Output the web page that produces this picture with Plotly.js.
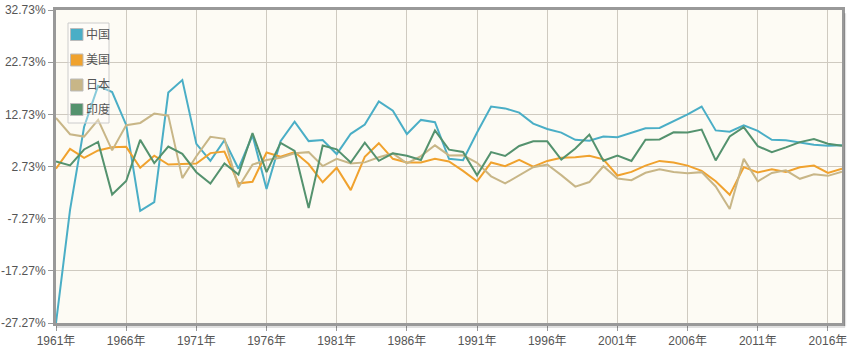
<!DOCTYPE html>
<html><head><meta charset="utf-8">
<script src="https://cdn.plot.ly/plotly-3.0.1.min.js"></script>
<style>html,body{margin:0;padding:0;background:#fff}#chart{width:854px;height:357px}</style>
</head><body><div id="chart"></div>
<script>
const years = [];
for (let y = 1961; y <= 2017; y++) years.push(y);

const seriesNames = ['中国', '美国', '日本', '印度'];
const seriesColors = ['#4aaec6', '#f0a22e', '#c8b687', '#54926e'];

const china = [-27.27,-5.58,10.3,18.18,17.0,10.7,-5.77,-4.1,16.9,19.3,
  7.06,3.81,7.76,2.31,8.72,-1.57,7.57,11.33,7.6,7.81,
  5.11,9.0,10.77,15.19,13.43,8.95,11.66,11.22,4.21,3.92,
  9.26,14.22,13.87,13.05,10.95,9.93,9.23,7.84,7.67,8.49,
  8.34,9.13,10.04,10.11,11.4,12.72,14.23,9.65,9.4,10.64,
  9.55,7.86,7.77,7.3,6.9,6.7,6.8];
const usa = [2.3,6.1,4.4,5.8,6.4,6.5,2.5,4.8,3.1,3.2,
  3.3,5.3,5.6,-0.5,-0.2,5.4,4.6,5.5,3.2,-0.3,
  2.5,-1.8,4.6,7.2,4.2,3.5,3.5,4.2,3.7,1.9,
  -0.1,3.5,2.8,4.0,2.7,3.8,4.4,4.5,4.8,4.1,
  1.0,1.7,2.9,3.8,3.5,2.9,1.9,-0.1,-2.7,2.6,
  1.6,2.2,1.7,2.6,2.9,1.5,2.3];
const japan = [12.04,8.91,8.47,11.68,5.82,10.64,11.08,12.88,12.48,0.5,
  4.7,8.41,8.03,-1.23,3.09,3.97,4.39,5.27,5.48,2.82,
  4.21,3.31,3.52,4.5,5.23,3.33,4.73,6.79,4.86,4.89,
  3.42,0.85,-0.52,0.99,2.6,3.1,1.08,-1.13,-0.25,2.78,
  0.41,0.12,1.53,2.2,1.66,1.42,1.65,-1.09,-5.42,4.19,
  -0.12,1.5,2.0,0.37,1.22,0.94,1.71];
const india = [3.72,2.93,5.99,7.45,-2.64,-0.06,7.83,3.39,6.54,5.16,
  1.64,-0.55,3.3,1.19,9.15,1.66,7.25,5.71,-5.24,6.74,
  6.01,3.48,7.29,3.82,5.25,4.78,3.97,9.63,5.95,5.53,
  1.06,5.48,4.75,6.66,7.57,7.55,4.05,6.18,8.85,3.84,
  4.82,3.8,7.86,7.92,9.28,9.26,9.8,3.89,8.48,10.26,
  6.64,5.46,6.39,7.41,8.0,7.1,6.7];

const yTickVals = [-27.27,-17.27,-7.27,2.73,12.73,22.73,32.73];
const yTickText = ['-27.27%','-17.27%','-7.27%','2.73%','12.73%','22.73%','32.73%'];
const xTickVals = [1961,1966,1971,1976,1981,1986,1991,1996,2001,2006,2011,2016];
const xTickText = xTickVals.map(v => v + '年');

const allSeries = [china, usa, japan, india];
const traces = allSeries.map((s, i) => ({
  type:'scatter', mode:'lines', x: years, y: s, name: seriesNames[i],
  line:{color: seriesColors[i], width: 2}, showlegend:false
}));

// plot box in pixels (for legend placement in paper units)
const W = 854, H = 357, ML = 56, MR = 12, MT = 10, MB = 34;
const PW = W - ML - MR, PH = H - MT - MB;
const px = v => (v - ML) / PW;
const py = v => (H - MB - v) / PH;

const shapes = [
  {type:'line', xref:'paper', yref:'paper', x0:1.004, x1:1.004, y0:-0.01, y1:0.99,
    line:{color:'rgba(0,0,0,0.12)', width:2}},
  {type:'line', xref:'paper', yref:'paper', x0:0.0, x1:1.004, y0:-0.013, y1:-0.013,
    line:{color:'rgba(0,0,0,0.12)', width:2}},
  {type:'rect', xref:'paper', yref:'paper', x0:px(68), x1:px(109), y0:py(123), y1:py(23),
    line:{color:'#cccccc', width:1}, fillcolor:'rgba(255,255,255,0.35)', layer:'above'}
];
const annotations = [];
const legendY = [34.5, 60, 85, 109.5];
seriesNames.forEach((n, i) => {
  const cy = legendY[i];
  shapes.push({type:'rect', xref:'paper', yref:'paper', x0:px(70.5), x1:px(83), y0:py(cy+6), y1:py(cy-6),
    line:{color:'#bbbbbb', width:1}, fillcolor: seriesColors[i], layer:'above'});
  annotations.push({xref:'paper', yref:'paper', x:px(84), y:py(cy), text:n, showarrow:false,
    xanchor:'left', yanchor:'middle', font:{size:12, color:'#555'}});
});

const fontFam = 'Liberation Sans, Noto Sans CJK SC, sans-serif';
const layout = {
  width: W, height: H,
  margin: {l:ML, r:MR, t:MT, b:MB},
  paper_bgcolor: '#ffffff',
  plot_bgcolor: '#fdfbf4',
  font: {family: fontFam, size: 12, color: '#555'},
  xaxis: {range:[1961, 2017], tickvals: xTickVals, ticktext: xTickText,
    showgrid:true, gridcolor:'#cfcac0', gridwidth:1, zeroline:false,
    showline:true, linecolor:'#999', linewidth:3, mirror:true,
    ticks:'outside', ticklen:5, tickcolor:'#999', tickfont:{size:12, color:'#555'}},
  yaxis: {range:[-27.27, 32.73], tickvals: yTickVals, ticktext: yTickText,
    showgrid:true, gridcolor:'#cfcac0', gridwidth:1, zeroline:false,
    showline:true, linecolor:'#999', linewidth:3, mirror:true,
    ticks:'outside', ticklen:5, tickcolor:'#999', tickfont:{size:12, color:'#555'}},
  shapes: shapes,
  annotations: annotations,
  showlegend: false
};
Plotly.newPlot('chart', traces, layout, {displayModeBar:false, staticPlot:true});
</script></body></html>
